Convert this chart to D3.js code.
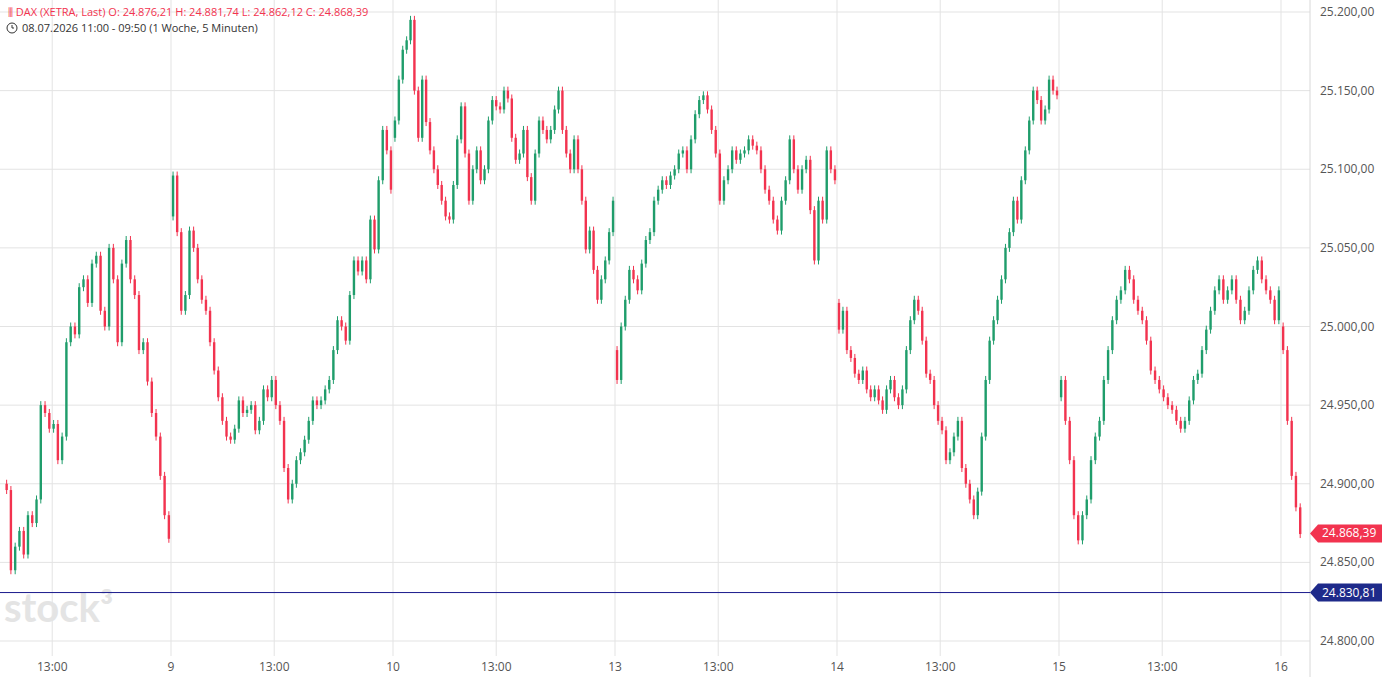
<!DOCTYPE html>
<html><head><meta charset="utf-8">
<script src="https://cdn.jsdelivr.net/npm/d3@7"></script>
<style>body{margin:0;background:#fff;font-family:"Open Sans",sans-serif}</style>
</head><body><svg id="c" width="1382" height="677"></svg>
<script>
const dayLabels=["8","9","10","13","14","15","16"];
const day8=[24896,24845,24860,24870,24855,24880,24875,24890,24950,24945,24935,24938,24915,24930,24990,25000,24995,25025,25030,25015,25040,25045,25010,25000,25050,25030,24990,25040,25055,25030,25020,24985,24990,24965,24945,24930,24905,24880,24865];
const day9=[25096,25060,25010,25020,25061,25050,25030,25017,25010,24990,24972,24955,24940,24930,24928,24935,24953,24945,24947,24950,24934,24940,24960,24955,24966,24950,24940,24910,24890,24900,24915,24920,24928,24940,24953,24950,24953,24960,24966,24985,25004,25000,24991,25020,25042,25035,25042,25030,25068,25049,25093,25125,25112,25087];
const day10=[25131,25157,25176,25182,25195,25150,25120,25157,25130,25112,25100,25090,25080,25070,25068,25090,25119,25140,25110,25080,25100,25112,25093,25100,25131,25144,25140,25138,25150,25145,25120,25106,25110,25125,25095,25080,25110,25131,25125,25119,25125,25138,25150,25125,25110,25100,25119,25100,25080,25049,25061,25036,25017,25030,25042,25060,25080];
const day13=[24966,25000,25017,25036,25030,25023,25040,25055,25060,25080,25087,25093,25090,25096,25100,25110,25112,25100,25119,25135,25144,25147,25138,25125,25110,25080,25093,25100,25112,25106,25110,25112,25119,25115,25112,25100,25087,25080,25068,25061,25080,25093,25119,25100,25087,25100,25106,25074,25042,25080,25068,25112,25100,25093];
const day14=[24998,25010,24985,24980,24970,24966,24972,24960,24955,24960,24953,24947,24960,24966,24955,24950,24960,24985,25004,25017,25010,24991,24970,24966,24950,24940,24934,24915,24920,24930,24940,24910,24900,24890,24880,24895,24930,24966,24991,25004,25017,25030,25050,25060,25080,25068,25093,25112,25131,25150,25144,25131,25138,25157,25150,25147];
const day15=[24966,24940,24915,24880,24864,24880,24890,24915,24930,24940,24966,24985,25004,25017,25023,25036,25030,25017,25010,25004,24991,24972,24966,24960,24955,24950,24947,24940,24935,24940,24953,24966,24970,24985,24998,25010,25023,25030,25017,25023,25030,25017,25004,25010,25023,25036,25042,25030,25023,25017,25004,25023];
const day16=[24985,24940,24905,24885,24868];
const dayOpens=[24900,25070,25120,24985,25015,24955,25000];
const priceTicks=[24800,24850,24900,24950,25000,25050,25100,25150,25200];
const lastPrice=24868.39, refPrice=24830.81;

const svg=d3.select("#c");
const W=1310;
const y=d3.scaleLinear().domain([24800,25200]).range([641,12]);
const x=d3.scaleLinear().domain([1,2]).range([171,393]);
const fmt=v=>d3.format(",.2f")(v).replace(/,/g,"#").replace(".",",").replace(/#/g,".");

svg.append("g").selectAll("line").data(priceTicks).join("line")
 .attr("x1",0).attr("x2",W).attr("y1",d=>y(d)).attr("y2",d=>y(d)).attr("stroke","#e3e3e3");
const vt=[];for(let d=0;d<7;d++){vt.push({v:d,l:dayLabels[d]});vt.push({v:d+0.465,l:"13:00"});}
const vts=vt.filter(t=>x(t.v)>0&&x(t.v)<W);
svg.append("g").selectAll("line").data(vts).join("line")
 .attr("x1",d=>x(d.v)).attr("x2",d=>x(d.v)).attr("y1",0).attr("y2",656).attr("stroke","#e3e3e3");
svg.append("line").attr("x1",W).attr("x2",W).attr("y1",0).attr("y2",677).attr("stroke","#d8d8d8");
svg.append("g").selectAll("text").data(vts).join("text").attr("x",d=>x(d.v)).attr("y",671)
 .attr("text-anchor","middle").attr("font-size",12).attr("fill","#555").text(d=>d.l);
svg.append("g").selectAll("text").data(priceTicks).join("text").attr("x",1320).attr("y",d=>y(d)+4)
 .attr("font-size",12).attr("fill","#555").text(fmt);

svg.append("text").attr("x",4).attr("y",622).attr("font-size",40).attr("font-weight","bold")
 .attr("fill","#e4e4e4").attr("font-family","Lato, sans-serif").text("stock³");

const days=[{a:day8,d:0,start:13},{a:day9,d:1},{a:day10,d:2},{a:day13,d:3},{a:day14,d:4},{a:day15,d:5},{a:day16,d:6}];
const candles=[];
days.forEach((dd,j)=>{const n=Math.max(52,dd.a.length);const s=dd.start||0;let prev=dayOpens[j];
 dd.a.forEach((c,i)=>{candles.push({t:dd.d+(s+i+0.5)/n,o:prev,c});prev=c;});});
const g=svg.append("g");
candles.forEach(k=>{const col=k.c>=k.o?"#1f9d6b":"#f2334f";const cx=x(k.t);
 const hi=Math.max(k.o,k.c),lo=Math.min(k.o,k.c);
 g.append("line").attr("x1",cx).attr("x2",cx).attr("y1",y(hi)-4).attr("y2",y(lo)+4).attr("stroke",col).attr("stroke-width",1);
 g.append("rect").attr("x",cx-1.2).attr("width",2.4).attr("y",y(hi)).attr("height",Math.max(1,y(lo)-y(hi))).attr("fill",col);});

svg.append("line").attr("x1",0).attr("x2",W).attr("y1",y(refPrice)).attr("y2",y(refPrice)).attr("stroke","#1a1a8c");
function tag(v,col){const yy=y(v);
 svg.append("path").attr("d",`M${W},${yy} L${W+8},${yy-9} H1382 V${yy+9} H${W+8} Z`).attr("fill",col);
 svg.append("text").attr("x",1322).attr("y",yy+4).attr("font-size",12).attr("fill","#fff").text(fmt(v));}
tag(lastPrice,"#f2334f");tag(refPrice,"#1e2a8a");

svg.append("text").attr("x",8).attr("y",16).attr("font-size",11).attr("fill","#f2334f")
 .text("⫼ DAX (XETRA, Last)  O: 24.876,21  H: 24.881,74  L: 24.862,12  C: 24.868,39");
svg.append("circle").attr("cx",12).attr("cy",28).attr("r",5).attr("fill","none").attr("stroke","#333");
svg.append("path").attr("d","M12,25 V28 H14").attr("stroke","#333").attr("fill","none");
svg.append("text").attr("x",22).attr("y",32).attr("font-size",11).attr("fill","#333").text("08.07.2026 11:00 - 09:50  (1 Woche, 5 Minuten)");
</script></body></html>
